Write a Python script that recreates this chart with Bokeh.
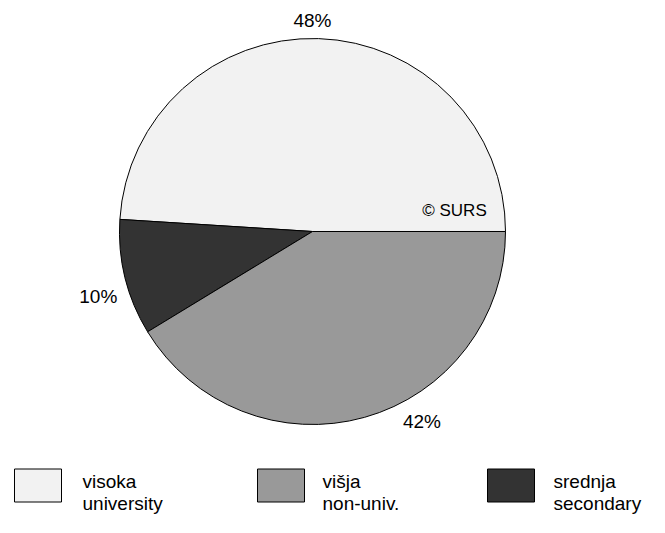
import math
from bokeh.plotting import figure
from bokeh.models import Range1d, ColumnDataSource
from bokeh.core.properties import value
from bokeh.embed import file_html
from bokeh.resources import INLINE

# ---- data (pie order, counter-clockwise from 3 o'clock) ----
categories = ["visoka", "srednja", "višja"]
shares = [49.0, 9.7, 41.3]
pct_labels = ["48%", "10%", "42%"]

# legend order and texts
legend_keys = ["visoka", "višja", "srednja"]
legend_line1 = ["visoka", "višja", "srednja"]
legend_line2 = ["university", "non-univ.", "secondary"]

# ---- style ----
colors = {"visoka": "#f2f2f2", "višja": "#999999", "srednja": "#333333"}
FONT = value("Liberation Sans")
W, H = 649, 517
CX, CY, R = 312, H - 231, 193
label_angles = [90, 197, -60]
label_radius = [211, 224, 219]
LEG_Y = 485  # page y of legend box centres

p = figure(width=W, height=H, output_backend="svg", toolbar_location=None,
           x_range=Range1d(0, W), y_range=Range1d(0, H),
           min_border=0, outline_line_color=None)
p.axis.visible = False
p.grid.visible = False
p.background_fill_color = "white"
p.border_fill_color = "white"

# wedges
total = sum(shares)
starts, ends = [], []
acc = 0.0
for s in shares:
    starts.append(2 * math.pi * acc / total)
    acc += s
    ends.append(2 * math.pi * acc / total)
src = ColumnDataSource(dict(cat=categories, start=starts, end=ends,
                            color=[colors[c] for c in categories]))
p.wedge(x=CX, y=CY, radius=R, start_angle="start", end_angle="end",
        fill_color="color", line_color="black", line_width=1, source=src)

# percentage labels
lx = [CX + r * math.cos(math.radians(a)) for a, r in zip(label_angles, label_radius)]
ly = [CY + r * math.sin(math.radians(a)) for a, r in zip(label_angles, label_radius)]
p.text(x=lx, y=ly, text=pct_labels, text_align="center", text_baseline="middle",
       text_font=FONT, text_font_size="19px", text_color="black")

# copyright
p.text(x=[454], y=[H - 210], text=["© SURS"], text_align="center", text_baseline="middle",
       text_font=FONT, text_font_size="17px", text_color="black")

# legend
box_x = [37.5, 280.5, 510.5]
text_x = [82, 322, 553]
p.rect(x=box_x, y=[H - LEG_Y] * 3, width=47, height=33,
       fill_color=[colors[k] for k in legend_keys], line_color="black", line_width=1)
p.text(x=text_x, y=[H - (LEG_Y - 4)] * 3, text=legend_line1, text_align="left",
       text_baseline="alphabetic", text_font=FONT, text_font_size="19px", text_color="black")
p.text(x=text_x, y=[H - (LEG_Y + 18)] * 3, text=legend_line2, text_align="left",
       text_baseline="alphabetic", text_font=FONT, text_font_size="19px", text_color="black")

open("out.html", "w").write(file_html(p, INLINE))
